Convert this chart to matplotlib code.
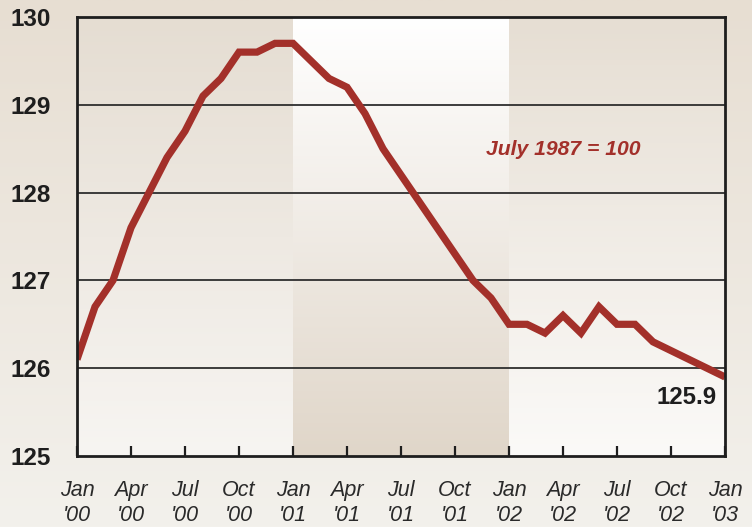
#!/usr/bin/env python
# -*- coding: utf-8 -*-

# Third party modules.
import numpy as np
import matplotlib
matplotlib.use("Agg")
import matplotlib.pyplot as plt
from matplotlib.colors import LinearSegmentedColormap

# Globals and constants variables.
index_values = [
    126.1, 126.7, 127.0, 127.6, 128.0, 128.4, 128.7, 129.1, 129.3, 129.6, 129.6, 129.7,  # 2000
    129.7, 129.5, 129.3, 129.2, 128.9, 128.5, 128.2, 127.9, 127.6, 127.3, 127.0, 126.8,  # 2001
    126.5, 126.5, 126.4, 126.6, 126.4, 126.7, 126.5, 126.5, 126.3, 126.2, 126.1, 126.0,  # 2002
    125.9,  # Jan 2003
]

tick_labels = ["Jan\n'00", "Apr\n'00", "Jul\n'00", "Oct\n'00",
               "Jan\n'01", "Apr\n'01", "Jul\n'01", "Oct\n'01",
               "Jan\n'02", "Apr\n'02", "Jul\n'02", "Oct\n'02",
               "Jan\n'03"]

y_ticks = [125, 126, 127, 128, 129, 130]

# year bands: (start month index, end month index, top colour, bottom colour)
bands = [
    (0, 12, "#e5ddd2", "#f7f5f2"),
    (12, 24, "#ffffff", "#e0d6c9"),
    (24, 36, "#e6ded3", "#fbfaf8"),
]

LINE_COLOR = "#a3302a"
DARK = "#1e1e1e"


def vertical_gradient(top, bottom):
    cmap = LinearSegmentedColormap.from_list("g", [bottom, top])
    grad = np.linspace(0, 1, 256).reshape(-1, 1)
    return grad, cmap


def run():
    fig = plt.figure(figsize=(7.52, 5.27), dpi=100)

    # page background
    bg = fig.add_axes([0, 0, 1, 1], zorder=-10)
    grad, cmap = vertical_gradient("#e7ded2", "#f3f1ec")
    bg.imshow(grad, cmap=cmap, aspect="auto", origin="lower", extent=[0, 1, 0, 1])
    bg.axis("off")

    ax = fig.add_axes([77 / 752, 1 - 456 / 527, 648 / 752, 439 / 527])
    ax.patch.set_visible(False)

    for x0, x1, top, bottom in bands:
        grad, cmap = vertical_gradient(top, bottom)
        ax.imshow(grad, cmap=cmap, aspect="auto", origin="lower",
                  extent=[x0, x1, y_ticks[0], y_ticks[-1]], zorder=0)

    for y in y_ticks[1:-1]:
        ax.axhline(y, color="#2e2e2e", lw=1.3, zorder=1)

    x = np.arange(len(index_values))
    ax.plot(x, index_values, color=LINE_COLOR, lw=5.2, solid_joinstyle="miter",
            solid_capstyle="butt", zorder=3)

    ax.set_xlim(0, 36)
    ax.set_ylim(y_ticks[0], y_ticks[-1])

    ax.set_xticks(np.arange(0, 37, 3))
    ax.set_xticklabels(tick_labels, fontsize=15.5, fontstyle="italic",
                       family="Liberation Sans", color="#2a2a2a", linespacing=1.3)
    ax.set_yticks(y_ticks)
    ax.set_yticklabels([str(v) for v in y_ticks], fontsize=17.5, fontweight="bold",
                       family="Liberation Sans", color=DARK)

    ax.tick_params(axis="x", direction="in", length=7, width=1.6, color=DARK, pad=17)
    ax.tick_params(axis="y", length=0, pad=19)

    for spine in ax.spines.values():
        spine.set_color(DARK)
        spine.set_linewidth(2.0)
        spine.set_zorder(4)

    ax.text(27.0, 128.49, "July 1987 = 100", color=LINE_COLOR, fontsize=15.2,
            fontweight="bold", fontstyle="italic", family="Liberation Sans",
            ha="center", va="center", zorder=5)
    ax.text(35.55, 125.67, "125.9", color=DARK, fontsize=17.3, fontweight="bold",
            family="Liberation Sans", ha="right", va="center", zorder=5)

    fig.savefig("out.png", dpi=100)


if __name__ == '__main__':
    run()
